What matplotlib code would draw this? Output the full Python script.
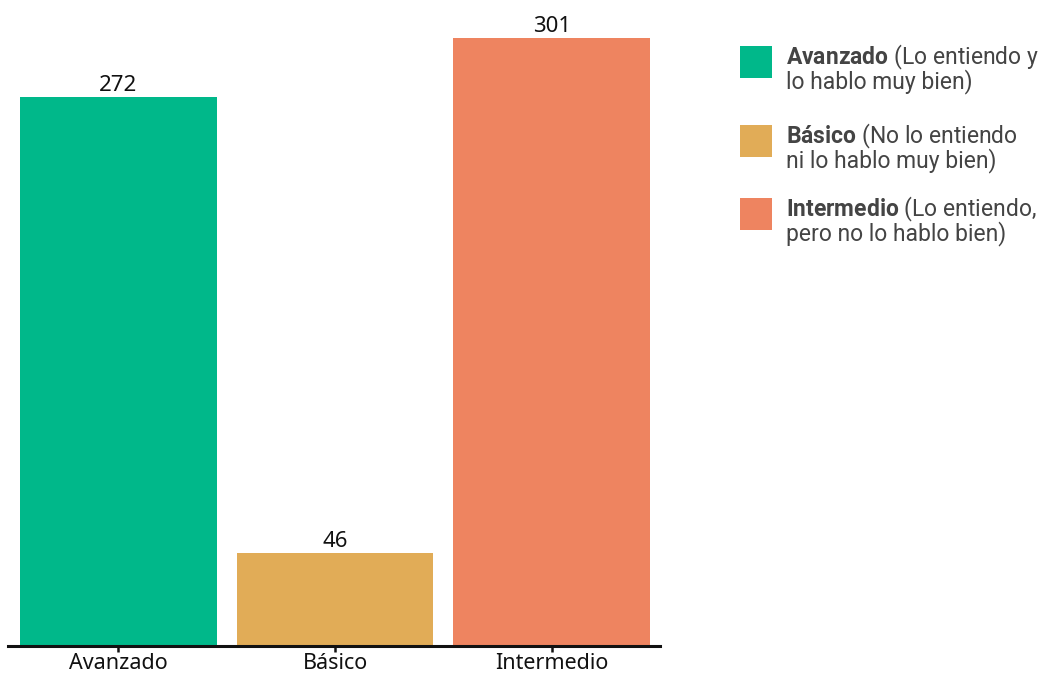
import matplotlib
matplotlib.use("Agg")
import matplotlib.pyplot as plt
from matplotlib.patches import Rectangle

categories = ["Avanzado", "Básico", "Intermedio"]
counts = [272, 46, 301]
colors = ["#00B88A", "#E1AC57", "#EE8460"]
legend_bold = ["Avanzado", "Básico", "Intermedio"]
legend_rest = [
    " (Lo entiendo y\nlo hablo muy bien)",
    " (No lo entiendo\nni lo hablo muy bien)",
    " (Lo entiendo,\npero no lo hablo bien)",
]

plt.rcParams["mathtext.fontset"] = "custom"
plt.rcParams["mathtext.bf"] = "Roboto:bold"
plt.rcParams["mathtext.rm"] = "Roboto"

fig = plt.figure(figsize=(10.47, 6.77), dpi=100)
ax = fig.add_axes([8 / 1047, 31 / 677, 652 / 1047, 636 / 677])

x = range(len(categories))
ax.bar(x, counts, width=0.908, color=colors)
for xi, v in zip(x, counts):
    ax.text(xi, v + 0.5, str(v), ha="center", va="bottom",
            fontsize=16, family="Noto Sans", color="#111111")

ax.set_xlim(-0.51, 2.5)
ax.set_ylim(0, 315)
ax.set_xticks(list(x))
ax.set_xticklabels(categories, fontsize=15.5, family="Noto Sans", color="#111111")
ax.tick_params(axis="x", length=4, width=1.8, pad=1, color="#111111")
ax.set_yticks([])
for s in ["top", "right", "left"]:
    ax.spines[s].set_visible(False)
ax.spines["bottom"].set_linewidth(2.2)
ax.spines["bottom"].set_color("#111111")

# Legend drawn by hand: a square swatch plus a two-line label
sq = 32
tops = [46, 125, 198]
for top, col, b, rest in zip(tops, colors, legend_bold, legend_rest):
    fig.add_artist(Rectangle((740 / 1047, 1 - (top + sq) / 677), sq / 1047, sq / 677,
                             transform=fig.transFigure, color=col, lw=0))
    first, second = rest.split("\n")
    label = r"$\bf{" + b + "}$" + first.replace(" ", "\u00a0") + "\n" + second
    fig.text(786 / 1047, 1 - (top - 3) / 677, label, ha="left", va="top",
             fontsize=16.5, family="Roboto", color="#444444", linespacing=0.82)

fig.savefig("out.png", dpi=100)
